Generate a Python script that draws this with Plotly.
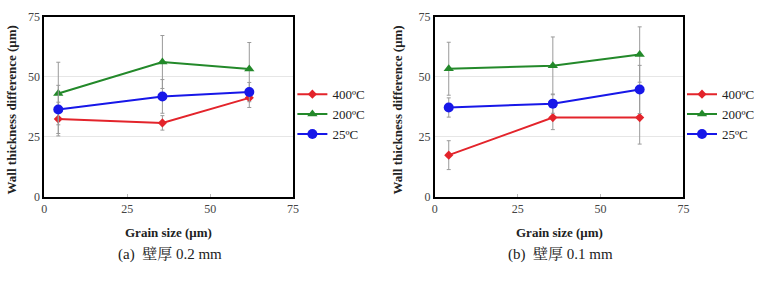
import plotly.graph_objects as go

grain = [4.2, 35.6, 61.8]
series_names = ["400ºC", "200ºC", "25ºC"]

# panel (a) wall thickness 0.2 mm
a_400 = [32.4, 30.8, 41.2]
a_200 = [43.0, 56.1, 53.2]
a_25 = [36.4, 41.8, 43.6]
a_400_err = [7.0, 3.0, 4.0]
a_200_err = [13.0, 11.0, 11.0]
a_25_err = [10.0, 7.0, 4.0]

# panel (b) wall thickness 0.1 mm
b_400 = [17.4, 33.0, 33.0]
b_200 = [53.3, 54.5, 59.2]
b_25 = [37.2, 38.8, 44.7]
b_400_err = [6.0, 5.0, 11.0]
b_200_err = [11.0, 12.0, 11.5]
b_25_err = [4.0, 4.0, 10.0]

x_ticks = [0, 25, 50, 75]
y_ticks = [0, 25, 50, 75]
captions = ["(a)  壁厚 0.2 mm", "(b)  壁厚 0.1 mm"]

colors = ["#e3242b", "#23892a", "#1717e8"]
symbols = ["diamond", "triangle-up", "circle"]
sizes = [7, 9, 10]

SERIF = "Liberation Serif, Noto Serif CJK TC, Noto Sans CJK TC, serif"

fig = go.Figure()

panels = [
    ("x", "y", "legend", [a_400, a_200, a_25], [a_400_err, a_200_err, a_25_err]),
    ("x2", "y2", "legend2", [b_400, b_200, b_25], [b_400_err, b_200_err, b_25_err]),
]
for xa, ya, lg, vals, errs in panels:
    for i in range(3):
        fig.add_trace(go.Scatter(
            x=grain, y=vals[i], name=series_names[i], mode="lines+markers",
            xaxis=xa, yaxis=ya, legend=lg,
            line=dict(color=colors[i], width=2),
            marker=dict(symbol=symbols[i], size=sizes[i], color=colors[i]),
            error_y=dict(type="data", array=errs[i], color="#9a9a9a", thickness=1, width=2),
        ))

W, H = 760, 281
def px(v):
    return v / W
def py(v):
    return 1 - v / H

axis_common = dict(
    range=[0, 75], tickvals=x_ticks, showline=True, linecolor="black", linewidth=2,
    mirror=True, zeroline=False,
    tickfont=dict(family=SERIF, size=12, color="#444"),
)
fig.update_layout(
    width=W, height=H, margin=dict(l=0, r=0, t=0, b=0),
    plot_bgcolor="white", paper_bgcolor="white",
    showlegend=True,
    xaxis=dict(domain=[px(42.3), px(296.7)], anchor="y", showgrid=False,
               ticks="inside", ticklen=3, tickcolor="#bbb", **axis_common),
    yaxis=dict(domain=[py(200), py(10)], anchor="x", showgrid=True, gridcolor="#e6e6e6",
               ticks="", **{**axis_common, "tickvals": y_ticks}),
    xaxis2=dict(domain=[px(441.7), px(696)], anchor="y2", showgrid=False,
                ticks="inside", ticklen=3, tickcolor="#bbb", **axis_common),
    yaxis2=dict(domain=[py(200), py(10)], anchor="x2", showgrid=True, gridcolor="#e6e6e6",
                ticks="", **{**axis_common, "tickvals": y_ticks}),
    legend=dict(x=px(296), y=py(76), xanchor="left", yanchor="top",
                font=dict(family=SERIF, size=13, color="#222"),
                bgcolor="rgba(0,0,0,0)", itemwidth=30, tracegroupgap=0),
    legend2=dict(x=px(695), y=py(76), xanchor="left", yanchor="top",
                 font=dict(family=SERIF, size=13, color="#222"),
                 bgcolor="rgba(0,0,0,0)", itemwidth=30, tracegroupgap=0),
)

# axis titles and captions
for cx, ty, cap in [(169.5, 9, captions[0]), (569, 404, captions[1])]:
    fig.add_annotation(text="<b>Grain size (μm)</b>", x=px(cx), y=py(237),
                       xref="paper", yref="paper", showarrow=False,
                       xanchor="center", yanchor="middle",
                       font=dict(family=SERIF, size=13, color="#222"))
    fig.add_annotation(text=cap, x=px(cx + 1), y=py(261),
                       xref="paper", yref="paper", showarrow=False,
                       xanchor="center", yanchor="middle",
                       font=dict(family=SERIF, size=15, color="#222"))
    fig.add_annotation(text="<b>Wall thickness difference (μm)</b>", x=px(ty), y=py(108),
                       xref="paper", yref="paper", showarrow=False, textangle=-90,
                       xanchor="center", yanchor="middle",
                       font=dict(family=SERIF, size=13, color="#222"))

fig.write_html("out.html")
